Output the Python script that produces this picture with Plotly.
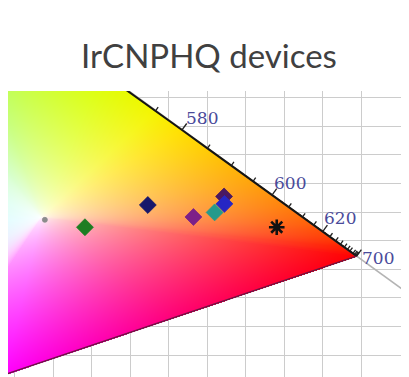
import numpy as np
import plotly.graph_objects as go

# ---------------- data ----------------
# CIE 1931 2-degree spectral locus (nm, x, y)
wavelength = [380, 390, 400, 410, 420, 430, 440, 450, 460, 470, 475, 480, 485, 490, 495,
              500, 505, 510, 515, 520, 525, 530, 535, 540, 545, 550, 555, 560, 565, 570,
              575, 580, 585, 590, 595, 600, 605, 610, 615, 620, 625, 630, 635, 640, 645,
              650, 655, 660, 665, 670, 680, 690, 700]
locus_x = [0.1741, 0.1738, 0.1733, 0.1726, 0.1714, 0.1689, 0.1644, 0.1566, 0.1440, 0.1241,
           0.1096, 0.0913, 0.0687, 0.0454, 0.0235, 0.0082, 0.0039, 0.0139, 0.0389, 0.0743,
           0.1142, 0.1547, 0.1929, 0.2296, 0.2658, 0.3016, 0.3373, 0.3731, 0.4087, 0.4441,
           0.4788, 0.5125, 0.5448, 0.5752, 0.6029, 0.6270, 0.6482, 0.6658, 0.6801, 0.6915,
           0.7006, 0.7079, 0.7140, 0.7190, 0.7230, 0.7260, 0.7283, 0.7300, 0.7311, 0.7320,
           0.7334, 0.7344, 0.7347]
locus_y = [0.0050, 0.0049, 0.0048, 0.0048, 0.0051, 0.0069, 0.0109, 0.0177, 0.0297, 0.0578,
           0.0868, 0.1327, 0.2007, 0.2950, 0.4127, 0.5384, 0.6548, 0.7502, 0.8120, 0.8338,
           0.8262, 0.8059, 0.7816, 0.7543, 0.7243, 0.6923, 0.6589, 0.6245, 0.5896, 0.5547,
           0.5202, 0.4866, 0.4544, 0.4242, 0.3965, 0.3725, 0.3514, 0.3340, 0.3197, 0.3083,
           0.2993, 0.2920, 0.2859, 0.2809, 0.2770, 0.2740, 0.2717, 0.2700, 0.2689, 0.2680,
           0.2666, 0.2656, 0.2653]

label_wl = [580, 600, 620, 700]
tick_wl = [570, 575, 580, 585, 590, 595, 600, 605, 610, 615, 620, 625, 630, 635, 640,
           645, 650, 660, 670, 680, 690, 700]

# device CIE coordinates
dev_x = [0.338, 0.389, 0.469, 0.527, 0.554, 0.566, 0.5665]
dev_y = [0.329, 0.316, 0.355, 0.334, 0.342, 0.370, 0.357]
star_x = [0.633]
star_y = [0.316]

white_pt = (0.3333, 0.3333)

# ---------------- styles ----------------
dev_colors = ['#8c8c8c', '#1e7d22', '#17176b', '#7d2088', '#259a8c', '#4a1860', '#2626c4']
dev_symbols = ['circle', 'diamond', 'diamond', 'diamond', 'diamond', 'diamond', 'diamond']
dev_sizes = [5, 13, 13, 13, 13, 13, 13]

spec_wl = [380, 430, 450, 465, 480, 490, 500, 520, 540, 550, 565, 575, 580, 590, 600,
           610, 620, 640, 660, 700]
spec_rgb = [(1, 0, 1), (1, 0.1, 1), (1, 0.3, 1), (0.95, 0.55, 1), (0.8, 0.85, 1),
            (0.68, 0.97, 1), (0.62, 1, 0.85), (0.5, 1, 0.35), (0.62, 1, 0.1), (0.72, 1, 0.05),
            (0.85, 1, 0), (0.96, 0.96, 0), (1, 0.88, 0), (1, 0.72, 0.03), (1, 0.57, 0.05),
            (1, 0.43, 0.04), (1, 0.3, 0.03), (1, 0.12, 0), (1, 0.04, 0), (1, 0, 0)]
purple_t = [0, 0.4, 0.8, 1.0]
purple_rgb = [(1, 0, 0), (1, 0, 0.45), (1, 0, 1), (1, 0, 1)]

# ---------------- geometry of the view ----------------
# (page body has an 8px margin, so the figure is laid out 8px up/left)
W_FIG, H_FIG = 401, 369
ML, MR, MT, MB = 0, 8, 83, 0
PW, PH = W_FIG - ML - MR, H_FIG - MT - MB
SX, SY = 786.0, 570.0          # px per chromaticity unit
X0 = 0.2911
X1 = X0 + PW / SX
Y1 = 0.555
Y0 = Y1 - PH / SY

# ---------------- chromaticity fill ----------------
lam = np.linspace(380, 700, 1281)
bx = np.interp(lam, wavelength, locus_x)
by = np.interp(lam, wavelength, locus_y)
sr = np.array(spec_rgb)
bc = np.stack([np.interp(lam, spec_wl, sr[:, k]) for k in range(3)], axis=1)
tt = np.linspace(0, 1, 800)[1:-1]
px_ = locus_x[-1] + tt * (locus_x[0] - locus_x[-1])
py_ = locus_y[-1] + tt * (locus_y[0] - locus_y[-1])
pr = np.array(purple_rgb)
pc = np.stack([np.interp(tt, purple_t, pr[:, k]) for k in range(3)], axis=1)
BX = np.concatenate([bx, px_])
BY = np.concatenate([by, py_])
BC = np.concatenate([bc, pc])
th_b = np.arctan2(BY - white_pt[1], BX - white_pt[0])
r_b = np.hypot(BX - white_pt[0], BY - white_pt[1])

dxp = (X1 - X0) / PW
dyp = (Y1 - Y0) / PH
xs = X0 + (np.arange(PW) + 0.5) * dxp
ys = Y0 + (np.arange(PH) + 0.5) * dyp
XX, YY = np.meshgrid(xs, ys)
th_p = np.arctan2(YY - white_pt[1], XX - white_pt[0])
r_p = np.hypot(XX - white_pt[0], YY - white_pt[1])
rb = np.interp(th_p, th_b, r_b, period=2 * np.pi)
col = np.stack([np.interp(th_p, th_b, BC[:, k], period=2 * np.pi) for k in range(3)], axis=2)
s = r_p / rb
inside = s <= 1.006
g = np.clip(s, 0, 1) ** 0.6
rgb = 1 - g[..., None] * (1 - col)
img = np.concatenate([np.round(rgb * 255).astype(int), inside[..., None].astype(int)], axis=2)

fig = go.Figure()
fig.add_trace(go.Image(z=img.tolist(), colormodel='rgba', x0=X0 + dxp / 2, dx=dxp,
                       y0=Y0 + dyp / 2, dy=dyp, hoverinfo='skip'))

# x + y = 1 guide line
fig.add_trace(go.Scatter(x=[0.43, 0.80], y=[0.57, 0.20], mode='lines',
                         line=dict(color='#b4b4b4', width=1.5), hoverinfo='skip'))

# spectral locus (visible part) and purple line
i0 = wavelength.index(560)
fig.add_trace(go.Scatter(x=locus_x[i0:], y=locus_y[i0:], mode='lines',
                         line=dict(color='#151515', width=2), hoverinfo='skip'))
fig.add_trace(go.Scatter(x=[locus_x[-1], locus_x[0]], y=[locus_y[-1], locus_y[0]], mode='lines',
                         line=dict(color='#6b1642', width=1.5), hoverinfo='skip'))

# tick marks on locus
tkx, tky = [], []
for l in tick_wl:
    lo, hi = max(l - 1, 380), min(l + 1, 700)
    if hi - lo < 2:
        lo = hi - 2
    x0_, y0_ = np.interp(l, wavelength, locus_x), np.interp(l, wavelength, locus_y)
    tx = (np.interp(hi, wavelength, locus_x) - np.interp(lo, wavelength, locus_x)) * SX
    ty = -(np.interp(hi, wavelength, locus_y) - np.interp(lo, wavelength, locus_y)) * SY
    n = np.hypot(tx, ty)
    nx, ny = ty / n, -tx / n
    L = 8 if l in label_wl else 4.5
    tkx += [x0_, x0_ + nx * L / SX, None]
    tky += [y0_, y0_ - ny * L / SY, None]
fig.add_trace(go.Scatter(x=tkx, y=tky, mode='lines', line=dict(color='#202020', width=1.3),
                         hoverinfo='skip'))

# devices
fig.add_trace(go.Scatter(x=dev_x, y=dev_y, mode='markers',
                         marker=dict(symbol=dev_symbols, size=dev_sizes, color=dev_colors,
                                     opacity=1, line=dict(width=0.8, color=dev_colors)),
                         hoverinfo='skip'))
fig.add_trace(go.Scatter(x=star_x, y=star_y, mode='markers',
                         marker=dict(symbol='asterisk-open', size=13, color='#111111',
                                     opacity=1, line=dict(width=2.6, color='#111111')),
                         hoverinfo='skip'))

# wavelength labels
label_shift = {580: (2, 12), 600: (0, 12), 620: (-1, 14), 700: (3, -2)}
for l in label_wl:
    xs_, ys_ = label_shift[l]
    fig.add_annotation(x=float(np.interp(l, wavelength, locus_x)),
                       y=float(np.interp(l, wavelength, locus_y)),
                       text=str(l), showarrow=False, xanchor='left', yanchor='middle',
                       xshift=xs_, yshift=ys_,
                       font=dict(family='DejaVu Serif', size=17, color='#4a4a9a'))

fig.update_layout(
    width=W_FIG, height=H_FIG,
    margin=dict(l=ML, r=MR, t=MT, b=MB, pad=0),
    paper_bgcolor='white', plot_bgcolor='white',
    showlegend=False,
    title=dict(text='IrCNPHQ devices', x=201 / W_FIG, xanchor='center', xref='container',
               y=1 - 48 / H_FIG, yanchor='middle', yref='container',
               font=dict(family='Lato', size=33, color='#404040')),
    xaxis=dict(range=[X0, X1], showticklabels=False, ticks='', zeroline=False,
               showline=False, showgrid=True, gridcolor='#cccccc', gridwidth=1,
               tick0=X0 + 45 / SX, dtick=38.56 / SX, fixedrange=True),
    yaxis=dict(range=[Y0, Y1], showticklabels=False, ticks='', zeroline=False,
               showline=False, showgrid=True, gridcolor='#cccccc', gridwidth=1,
               tick0=Y1 - 6.7 / SY, dtick=28.6 / SY, scaleanchor=False, autorange=False,
               fixedrange=True),
)

fig.write_html("out.html")
